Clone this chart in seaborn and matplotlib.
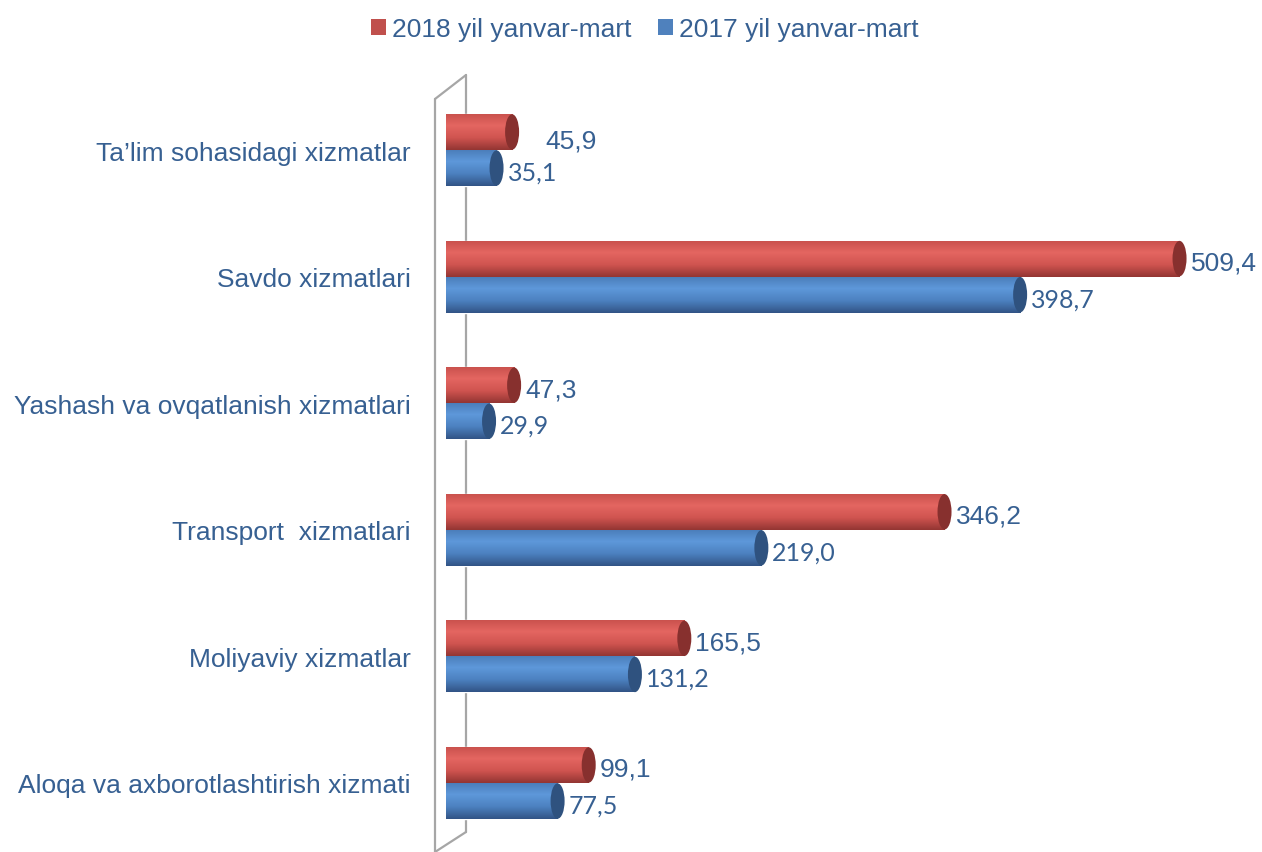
import numpy as np
import pandas as pd
import seaborn as sns
from matplotlib import pyplot as plt
from matplotlib.patches import Ellipse, Patch
from matplotlib.lines import Line2D

# data
categories = ['Ta’lim sohasidagi xizmatlar', 'Savdo xizmatlari',
              'Yashash va ovqatlanish xizmatlari', 'Transport  xizmatlari',
              'Moliyaviy xizmatlar', 'Aloqa va axborotlashtirish xizmati']
series = ['2018 yil yanvar-mart', '2017 yil yanvar-mart']
values_2018 = [45.9, 509.4, 47.3, 346.2, 165.5, 99.1]
values_2017 = [35.1, 398.7, 29.9, 219.0, 131.2, 77.5]

df = pd.DataFrame({
    'category': categories * 2,
    'value': values_2018 + values_2017,
    'year': [series[0]] * len(categories) + [series[1]] * len(categories),
})

sns.set_theme(style='white')
plt.rcParams['font.family'] = ['Liberation Sans', 'DejaVu Sans']

text_color = '#376092'
base_colors = ['#C0504D', '#4F81BD']
cap_colors = ['#87302E', '#2F527F']
gradients = [
    [(200, 80, 76), (228, 102, 97), (208, 84, 80), (148, 54, 51)],
    [(74, 124, 184), (94, 152, 218), (76, 129, 192), (50, 84, 134)],
]

W, H = 1262, 853
fig = plt.figure(figsize=(W / 100, H / 100), dpi=100)
x0_px = 446
ax = fig.add_axes([x0_px / W, 0, (W - x0_px) / W, 1])
ax.patch.set_alpha(0)

sns.barplot(data=df, y='category', x='value', hue='year', hue_order=series,
            order=categories, palette=base_colors, width=0.57, orient='h',
            ax=ax, legend=False, saturation=1)

px_per_unit = 1.44
row_px = 126.6
xlim = (0, (W - x0_px) / px_per_unit)
ylim = (5 + (H - 784) / row_px, -151 / row_px)

for s in ax.spines.values():
    s.set_visible(False)
ax.set_xlabel('')
ax.set_ylabel('')
ax.set_xticks([])
ax.tick_params(axis='y', length=0, pad=(x0_px - 411) * 0.72, labelsize=19,
               labelcolor=text_color)

cap_w = 14 / px_per_unit
stops = np.linspace(0, 1, 4)
tt = np.linspace(0, 1, 64)
for k, cont in enumerate(ax.containers):
    g = np.array(gradients[k]) / 255
    grad = np.stack([np.interp(tt, stops, g[:, c]) for c in range(3)], axis=1)
    grad = grad[:, None, :]
    vals = values_2018 if k == 0 else values_2017
    for i, bar in enumerate(cont.patches):
        x, y = bar.get_x(), bar.get_y()
        w, h = bar.get_width(), bar.get_height()
        im = ax.imshow(grad, extent=(x, x + w, y + h, y), origin='upper',
                       aspect='auto', zorder=bar.get_zorder() + 0.1)
        im.set_clip_path(bar)
        ax.add_patch(Ellipse((x + w, y + h / 2), cap_w, h * 0.98,
                             facecolor=cap_colors[k], edgecolor='none',
                             zorder=bar.get_zorder() + 0.2))
        label = f'{vals[i]:.1f}'.replace('.', ',')
        if k == 0:
            dx, dy = 11, -4
            if i == 0:
                dx, dy = 33, -9
            ax.annotate(label, (x + w, y + h / 2), xytext=(dx * 0.72, dy * 0.72),
                        textcoords='offset points', va='center', ha='left',
                        fontsize=19, color=text_color)
        else:
            ax.annotate(label, (x + w, y + h / 2), xytext=(11 * 0.72, -4 * 0.72),
                        textcoords='offset points', va='center', ha='left',
                        fontsize=18, color=text_color, family=['Lato', 'DejaVu Sans'])

ax.set_xlim(*xlim)
ax.set_ylim(*ylim)

# the left "wall" of the 3D chart
wall = [((466, 466), (76, 833)), ((435, 435), (100, 860)),
        ((466, 435), (76, 100)), ((466, 435), (833, 853))]
for xs, ys in wall:
    fig.add_artist(Line2D([v / W for v in xs], [1 - v / H for v in ys],
                          transform=fig.transFigure, color='#A6A6A6', lw=1.6,
                          zorder=-1))

handles = [Patch(facecolor=c, edgecolor='none') for c in base_colors]
fig.legend(handles, series, loc='center', bbox_to_anchor=(0.511, 1 - 30 / H),
           ncol=2, frameon=False, fontsize=19, labelcolor=text_color,
           handlelength=0.55, handleheight=0.55, handletextpad=0.25,
           columnspacing=1.0)

plt.savefig('out.png', dpi=100)
